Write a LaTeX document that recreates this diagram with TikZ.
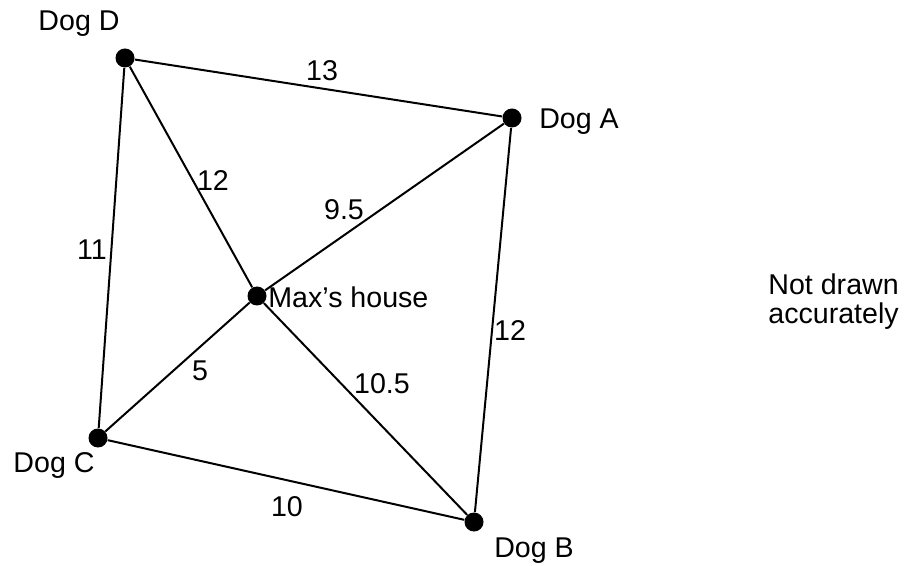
\documentclass[tikz,border=0pt]{standalone}
\usepackage{fontspec}
\setmainfont{Liberation Sans}
\usetikzlibrary{positioning}

\begin{document}
\begin{tikzpicture}[
    x=0.5pt, y=-0.5pt,
    dot/.style={circle, fill=black, inner sep=0pt, minimum size=9.5pt},
    lbl/.style={font=\fontsize{14.3}{14.5}\selectfont, inner sep=0pt},
    road/.style={line width=1pt, draw=black},
]
\useasboundingbox (0,0) rectangle (904,566);

% places
\node[dot] (dogD) at (125,58) {};
\node[dot] (dogA) at (512,118) {};
\node[dot] (max) at (257,296) {};
\node[dot] (dogC) at (98,438) {};
\node[dot] (dogB) at (474,522) {};

% roads
\draw[road] (dogD) -- (dogA);
\draw[road] (dogD) -- (dogC);
\draw[road] (dogD) -- (max);
\draw[road] (max) -- (dogB);
\draw[road] (dogA) -- (max);
\draw[road] (max) -- (dogC);
\draw[road] (dogA) -- (dogB);
\draw[road] (dogC) -- (dogB);

% names
\node[lbl] (nameD) at (79,24) {Dog D};
\node[lbl] (nameA) at (579,122) {Dog A};
\node[lbl, anchor=west] (nameMax) at (268,297) {Max’s house};
\node[lbl] (nameC) at (54,465) {Dog C};
\node[lbl] (nameB) at (534,551) {Dog B};

% distances
\node[lbl] (dDA) at (322,71) {13};
\node[lbl] (dDM) at (213,181) {12};
\node[lbl] (dAM) at (344,210) {9.5};
\node[lbl] (dDC) at (92,250) {11};
\node[lbl] (dAB) at (510,331) {12};
\node[lbl] (dCM) at (200,371) {5};
\node[lbl] (dMB) at (382,384) {10.5};
\node[lbl] (dCB) at (287,507) {10};

\node[lbl, anchor=north west, align=left] (note) at (768,273) {Not drawn\\accurately};
\end{tikzpicture}
\end{document}
